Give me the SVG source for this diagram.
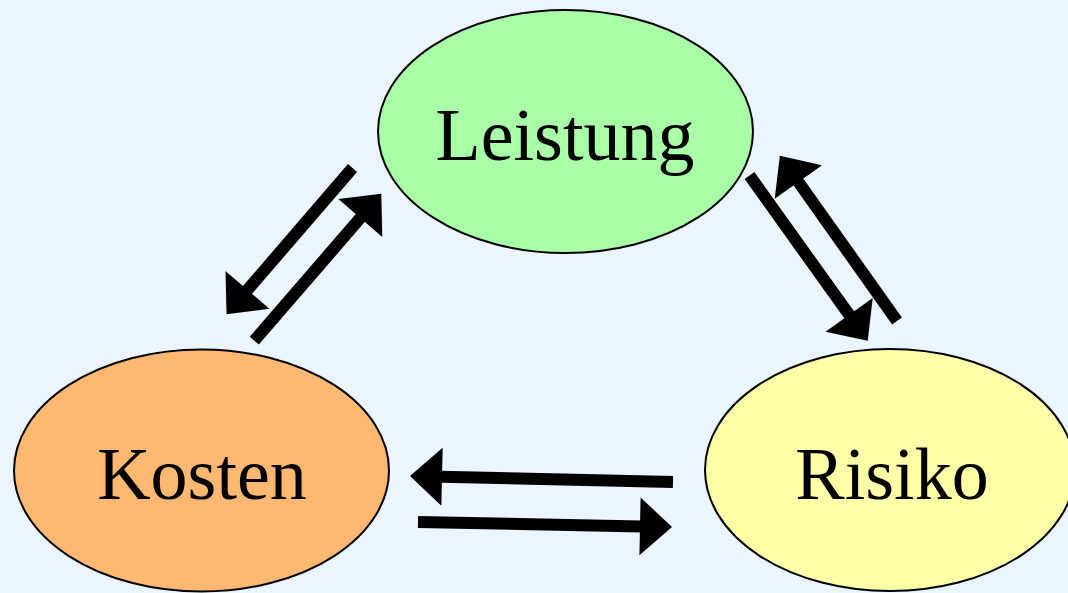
<svg xmlns="http://www.w3.org/2000/svg" width="1068" height="593" viewBox="0 0 1068 593">
  <defs>
    <style>
      .node { stroke: #000; stroke-width: 2; }
      .label { font-family: "Liberation Serif", "Times New Roman", serif; font-size: 74px; fill: #000; text-anchor: middle; }
      .conn { stroke: #000; stroke-width: 12; fill: none; marker-end: url(#head); }
    </style>
    <marker id="head" markerUnits="userSpaceOnUse" markerWidth="40" markerHeight="64" refX="1" refY="29" orient="auto" overflow="visible">
      <path d="M0,0 L32,29 L0,58 Z" fill="#000"/>
    </marker>
  </defs>
  <rect x="0" y="0" width="1068" height="593" fill="#EBF5FF"/>
  <g id="leistung">
    <ellipse class="node" cx="565.5" cy="131.5" rx="187.5" ry="121.5" fill="#A8FFA8"/>
    <text class="label" x="565" y="160">Leistung</text>
  </g>
  <g id="kosten">
    <ellipse class="node" cx="201.5" cy="470.5" rx="187.5" ry="121" fill="#FFB872"/>
    <text class="label" x="202" y="499">Kosten</text>
  </g>
  <g id="risiko">
    <ellipse class="node" cx="890" cy="470" rx="185" ry="121" fill="#FFFFA8"/>
    <text class="label" x="892" y="499">Risiko</text>
  </g>
  <g id="connectors">
    <path class="conn" d="M352.5,168 L246.8,290.7"/>
    <path class="conn" d="M254.3,340.7 L361,217.2"/>
    <path class="conn" d="M673,482 L441,476.7"/>
    <path class="conn" d="M418,522 L641,526.4"/>
    <path class="conn" d="M749.5,175.5 L849.7,315.6"/>
    <path class="conn" d="M897,321 L797.8,181.1"/>
  </g>
</svg>
